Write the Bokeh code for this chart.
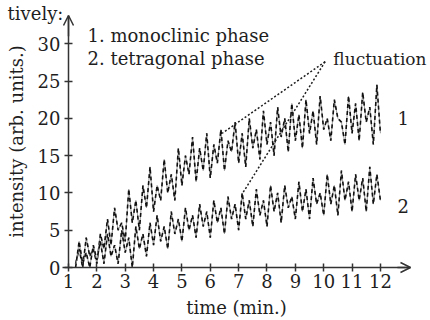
from bokeh.plotting import figure
from bokeh.models import Range1d, Label, Arrow, OpenHead, FixedTicker
from bokeh.embed import file_html
from bokeh.resources import INLINE

# time axis (min.) sampled every 1/8 min
time = [1.25 + 0.125 * i for i in range(87)]

monoclinic = [0.5, 2.5, 0, 4, 1.5, 2.5, 0.5, 4.5,
              2.5, 6.5, 3, 8, 5, 6, 3.5, 10.5,
              6, 9, 5, 11, 8, 13.5, 7.5, 11,
              9, 14.5, 10, 12.5, 9, 16, 11, 15,
              12.5, 17.5, 11.5, 16, 13, 18, 12, 16.5,
              14, 18.5, 13, 17, 15.5, 19.5, 14, 18,
              13.5, 20, 16, 18.5, 14.5, 21, 16.5, 19.5,
              15, 21.5, 17.5, 20, 15.5, 22, 17, 20.5,
              16, 22.5, 18, 21, 16.5, 23, 18.5, 20,
              17, 22.5, 20, 19.5, 16.5, 23, 18, 22,
              17, 23.5, 19.5, 21.5, 16.5, 24.5, 18]

tetragonal = [0, 3.5, 0.5, 2, 0, 3, 1, 3.5,
              0.5, 4.5, 1.5, 3, 0.5, 5, 2, 4,
              0, 5.5, 2.5, 4.5, 1.5, 6, 3, 7,
              3.5, 5.5, 2.5, 7.5, 4.5, 6.5, 3.5, 8,
              5, 7, 4, 8.5, 5.5, 7.5, 4, 9,
              6, 8, 4.5, 9.5, 6.5, 8.5, 5, 10,
              6.5, 9, 5.5, 10.5, 7, 9, 5.5, 11,
              7.5, 10, 6, 11, 8, 9.5, 6.5, 11.5,
              7.5, 10.5, 6.5, 12, 8.5, 10, 7, 12.5,
              8.5, 11, 7, 13, 9, 11.5, 7.5, 12.5,
              9, 12, 7.5, 13.5, 8.5, 12.5, 9]

x_ticks = [1, 2, 3, 4, 5, 6, 7, 8, 9, 10, 11, 12]
y_ticks = [0, 5, 10, 15, 20, 25, 30]

# "fluctuation" pointer lines: apex and the two ends
pointer_apex = (10.05, 27.6)
pointer_ends = [(6.42, 18.0), (7.13, 9.9)]

FONT = "DejaVu Serif"
FS = "18px"
INK = "#1e1e1e"
AX = "#333333"

# the frame fills the whole canvas; the axes sit inside it at x=1 and y=0
p = figure(width=430, height=320, output_backend="svg", toolbar_location=None,
           x_range=Range1d(-1.398, 13.766), y_range=Range1d(-7.108, 35.81),
           min_border_left=0, min_border_right=0, min_border_top=0,
           min_border_bottom=0)
p.outline_line_color = None
p.grid.visible = False
p.background_fill_color = "white"
p.border_fill_color = "white"

for ax in (p.xaxis[0], p.yaxis[0]):
    ax.axis_line_color = AX
    ax.axis_line_width = 1.5
    ax.major_tick_line_color = AX
    ax.major_tick_line_width = 1.5
    ax.major_tick_in = 4
    ax.major_tick_out = 4
    ax.minor_tick_line_color = None
    ax.major_label_text_font = FONT
    ax.major_label_text_font_size = FS
    ax.major_label_text_color = INK
    ax.axis_label_text_font = FONT
    ax.axis_label_text_font_size = FS
    ax.axis_label_text_font_style = "normal"
    ax.axis_label_text_color = INK

p.xaxis.fixed_location = 0
p.yaxis.fixed_location = 1
p.xaxis.bounds = (0.8, 13.06)
p.yaxis.bounds = (0, 33.8)
p.xaxis.ticker = FixedTicker(ticks=x_ticks)
p.yaxis.ticker = FixedTicker(ticks=y_ticks)
p.xaxis.axis_label = "time (min.)"
p.yaxis.axis_label = "intensity (arb. units.)"
p.xaxis.major_label_standoff = 2
p.xaxis.axis_label_standoff = 6
p.yaxis.major_label_standoff = 4
p.yaxis.axis_label_standoff = 8

# axis arrows
p.add_layout(Arrow(end=OpenHead(size=10, line_width=1.5, line_color=AX),
                   x_start=12.6, y_start=0, x_end=13.06, y_end=0,
                   line_width=1.5, line_color=AX))
p.add_layout(Arrow(end=OpenHead(size=10, line_width=1.5, line_color=AX),
                   x_start=1, y_start=31, x_end=1, y_end=33.8,
                   line_width=1.5, line_color=AX))

# data: faint grey trace with a dashed dark trace over it
for series in (monoclinic, tetragonal):
    p.line(time, series, line_color="#9a9a9a", line_width=1.0)
    p.line(time, series, line_color="#111111", line_width=1.6, line_dash="4 3")

# fluctuation pointers
for ex, ey in pointer_ends:
    p.line([pointer_apex[0], ex], [pointer_apex[1], ey], line_color=INK,
           line_width=1.5, line_dash="2 2")

def lab(x, y, t, size=FS, align="left"):
    p.add_layout(Label(x=x, y=y, text=t, text_font=FONT, text_font_size=size,
                       text_color=INK, text_align=align,
                       text_baseline="alphabetic"))

lab(1.67, 31.1, "1. monoclinic phase")
lab(1.67, 28.0, "2. tetragonal phase")
lab(10.34, 27.9, "fluctuation", size="17px")
lab(12.6, 20.0, "1")
lab(12.6, 8.3, "2")
lab(0.82, 34.1, "tively:", align="right")

open("out.html", "w").write(file_html(p, INLINE))
